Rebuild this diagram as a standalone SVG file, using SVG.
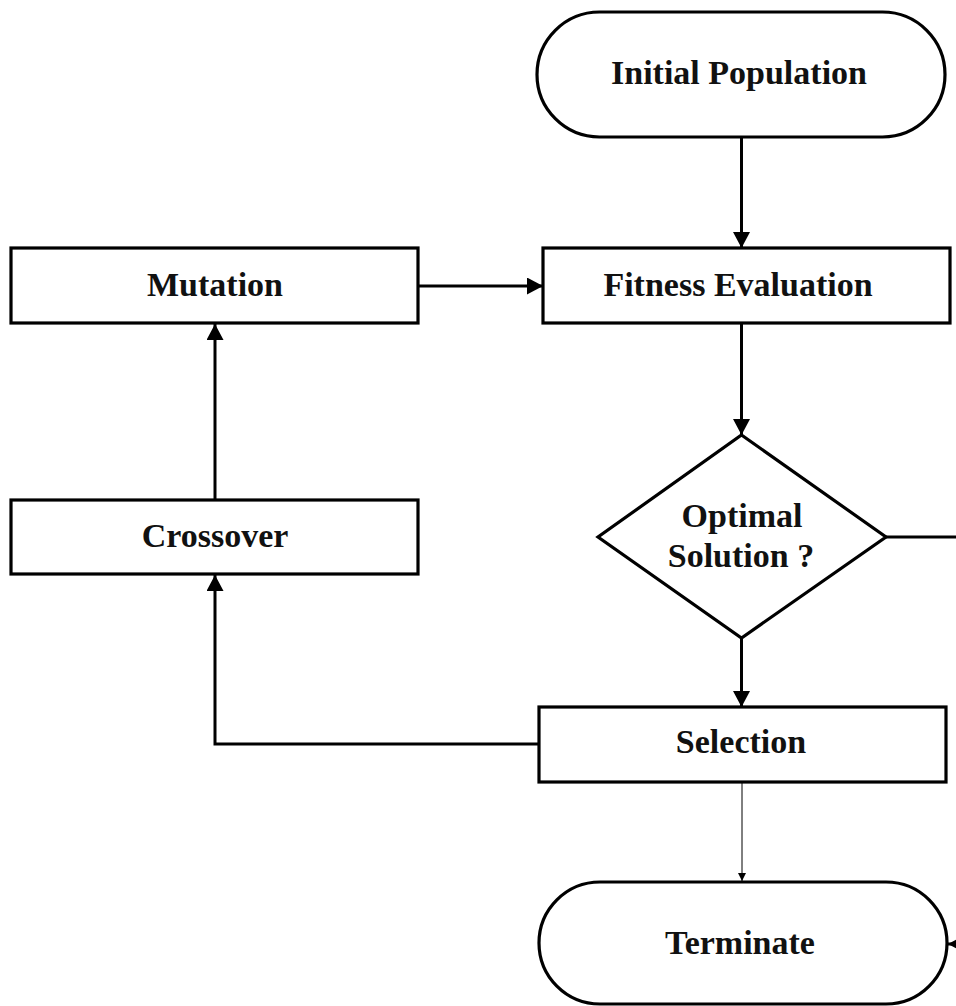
<svg xmlns="http://www.w3.org/2000/svg" width="956" height="1006" viewBox="0 0 956 1006">
<style>
.shape{fill:#fff;stroke:#000;stroke-width:3.2}
.lbl{font-family:"Liberation Serif","Times New Roman",serif;font-weight:bold;font-size:34px;fill:#111;text-anchor:middle}
.conn{fill:none;stroke:#000;stroke-width:3}
.thin{fill:none;stroke:#000;stroke-width:1}
</style>
<defs>
<marker id="ah" viewBox="0 0 16 17" refX="16" refY="8.5" markerWidth="16" markerHeight="17" markerUnits="userSpaceOnUse" orient="auto">
<path d="M0,0 L16,8.5 L0,17 z" fill="#000"/>
</marker>
<marker id="ahs" viewBox="0 0 8 8" refX="8" refY="4" markerWidth="8" markerHeight="8" markerUnits="userSpaceOnUse" orient="auto">
<path d="M0,0 L8,4 L0,8 z" fill="#000"/>
</marker>
</defs>
<g id="connectors">
<path class="conn" d="M741.5,137 V248" marker-end="url(#ah)"/>
<path class="conn" d="M418,286 H543" marker-end="url(#ah)"/>
<path class="conn" d="M741.5,323 V435" marker-end="url(#ah)"/>
<path class="conn" d="M886,537 H975 V944 H948" marker-end="url(#ah)"/>
<path class="conn" d="M741.5,638 V707" marker-end="url(#ah)"/>
<path class="conn" d="M539,744 H215 V575" marker-end="url(#ah)"/>
<path class="conn" d="M215,500 V324" marker-end="url(#ah)"/>
<path class="thin" d="M742,782 V881" marker-end="url(#ahs)"/>
</g>
<g id="initial">
<rect class="shape" x="537" y="12" width="408" height="125" rx="62.5" ry="62.5"/>
<text class="lbl" x="739" y="84">Initial Population</text>
</g>
<g id="fitness">
<rect class="shape" x="543" y="248" width="407" height="75"/>
<text class="lbl" x="738" y="296">Fitness Evaluation</text>
</g>
<g id="mutation">
<rect class="shape" x="11" y="248" width="407" height="75"/>
<text class="lbl" x="215" y="296">Mutation</text>
</g>
<g id="decision">
<polygon class="shape" points="741.5,435 886,537 741.5,638 598,537"/>
<text class="lbl" x="742" y="527">Optimal</text>
<text class="lbl" x="741" y="567">Solution ?</text>
</g>
<g id="crossover">
<rect class="shape" x="11" y="500" width="407" height="74"/>
<text class="lbl" x="215" y="547">Crossover</text>
</g>
<g id="selection">
<rect class="shape" x="539" y="707" width="407" height="75"/>
<text class="lbl" x="741" y="753">Selection</text>
</g>
<g id="terminate">
<rect class="shape" x="539" y="882" width="408" height="122" rx="61" ry="61"/>
<text class="lbl" x="740" y="954">Terminate</text>
</g>
</svg>
